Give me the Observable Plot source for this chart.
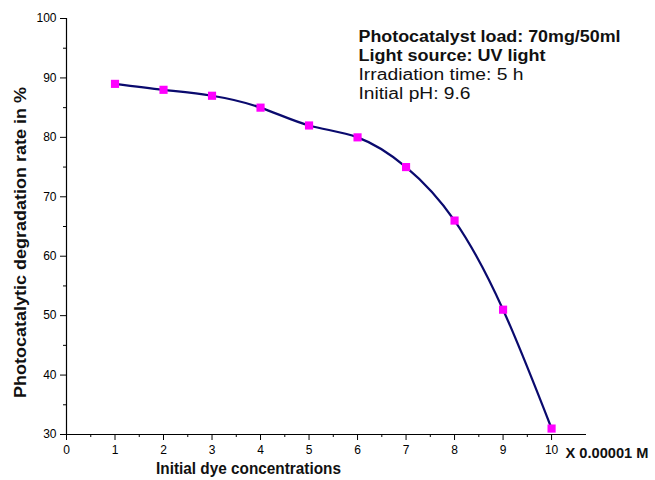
<!DOCTYPE html>
<html><head><meta charset="utf-8">
<script src="https://cdn.jsdelivr.net/npm/d3@7"></script>
<script src="https://cdn.jsdelivr.net/npm/@observablehq/plot@0.6"></script>
<style>
body{margin:0;background:#fff;}
</style></head>
<body><div id="chart"></div>
<script>
const concentrations = [1,2,3,4,5,6,7,8,9,10];
const degradation = [89,88,87,85,82,80,75,66,51,31];
const xTicks = [0,1,2,3,4,5,6,7,8,9,10];
const xMinor = [0.5,1.5,2.5,3.5,4.5,5.5,6.5,7.5,8.5,9.5];
const yTicks = [30,40,50,60,70,80,90,100];
const yMinor = [35,45,55,65,75,85,95];
const notes = ["Photocatalyst load: 70mg/50ml","Light source: UV light","Irradiation time: 5 h","Initial pH: 9.6"];
const noteWidths = [262, 187, 165, 112];

const data = concentrations.map((c,i)=>({c, d: degradation[i]}));
const font = '"Liberation Sans",Arial,sans-serif';

const chart = Plot.plot({
  width: 655, height: 480,
  marginLeft: 66, marginRight: 69, marginTop: 18, marginBottom: 46,
  style: {fontFamily: font, background: "#fff"},
  x: {domain: [0, 10.72]},
  y: {domain: [30, 100]},
  marks: [
    Plot.ruleY([30], {stroke: "#000", strokeWidth: 1.2}),
    Plot.ruleX([0], {stroke: "#000", strokeWidth: 1.2}),
    Plot.axisX({ticks: xTicks, tickSize: 6, tickPadding: 5, fontSize: 12, label: null}),
    Plot.axisX({ticks: xMinor, tickSize: 3, tickFormat: () => "", label: null}),
    Plot.axisY({ticks: yTicks, tickSize: 6, tickPadding: 4, fontSize: 12, label: null}),
    Plot.axisY({ticks: yMinor, tickSize: 3, tickFormat: () => "", label: null}),
    Plot.line(data, {x: "c", y: "d", curve: "natural", stroke: "#0a0a6e", strokeWidth: 2.2}),
    Plot.dot(data, {x: "c", y: "d", symbol: "square", r: 4.6, fill: "#ff00ff", stroke: "none"}),
    Plot.text(["Initial dye concentrations"], {frameAnchor: "bottom", dy: 39, dx: -78, fontSize: 17, fontWeight: "bold", fill: "#111", className: "fit-185"}),
    Plot.text(["X 0.00001 M"], {x: [10.72], y: [30], dx: -21, dy: 19, textAnchor: "start", fontSize: 15, fontWeight: "bold", fill: "#111", className: "fit-83"}),
    Plot.text(["Photocatalytic degradation rate in %"], {frameAnchor: "left", textAnchor: "middle", rotate: -90, dx: -46, dy: 16, fontSize: 17, fontWeight: "bold", fill: "#111", className: "fit-311"}),
    ...notes.map((n, i) => Plot.text([n], {frameAnchor: "top-left", textAnchor: "start", lineAnchor: "bottom", dx: 292, dy: 23 + i * 19.2, fontSize: 16,
      fontWeight: i < 2 ? "bold" : "normal", fill: "#111", className: "fit-" + noteWidths[i]}))
  ]
});
chart.querySelectorAll("[class*='fit-']").forEach(g => {
  const cls = [...g.classList].find(c => c.startsWith("fit-"));
  const w = +cls.slice(4);
  g.querySelectorAll("text").forEach(t => { t.setAttribute("textLength", w); t.setAttribute("lengthAdjust", "spacingAndGlyphs"); });
});
document.getElementById("chart").appendChild(chart);
</script></body></html>
